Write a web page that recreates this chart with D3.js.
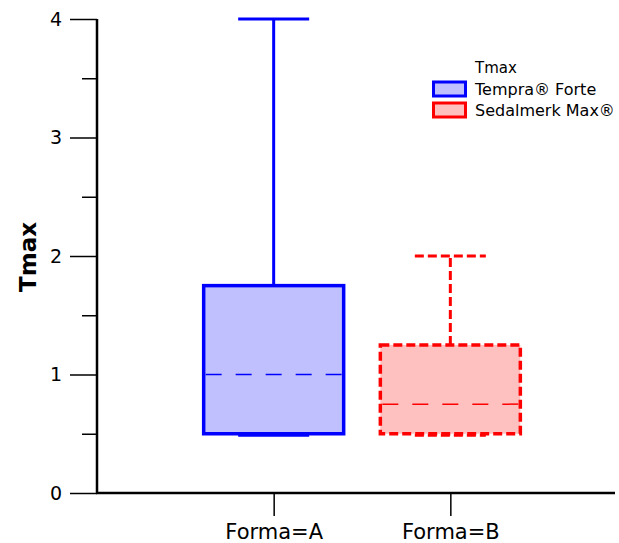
<!DOCTYPE html>
<meta charset="utf-8">
<style>
body { margin: 0; background: #fff; }
text { font-family: "DejaVu Sans", Verdana, sans-serif; }
</style>
<html>
<body>
<div id="chart"></div>
<script src="https://d3js.org/d3.v7.min.js"></script>
<script>
// data
var categories = ["Forma=A", "Forma=B"];
var seriesNames = ["Tempra® Forte", "Sedalmerk Max®"];
var mins = [0.5, 0.5];
var q1s = [0.5, 0.5];
var medians = [1.0, 0.75];
var q3s = [1.75, 1.25];
var maxs = [4.0, 2.0];
var yTicks = [0, 1, 2, 3, 4];
var yMinorTicks = [0.5, 1.5, 2.5, 3.5];

var strokes = ["#0000ff", "#ff0000"];
var fills = ["#c0c0ff", "#ffc0c0"];
var dashes = [null, "9,4"];

var width = 619, height = 543;

var svg = d3.select("#chart").append("svg")
    .attr("width", width)
    .attr("height", height);

var x = d3.scalePoint()
    .domain(categories)
    .range([97, 627])
    .padding(1);

var y = d3.scaleLinear()
    .domain([0, 4])
    .range([493, 19]);

var boxW = 140, capW = 71;

// y axis
var yAxis = svg.append("g")
    .attr("transform", "translate(97,0)")
    .call(d3.axisLeft(y).tickValues(yTicks).tickSize(27).tickPadding(8).tickFormat(d3.format("d")));
yAxis.select(".domain").remove();
yAxis.selectAll("line").attr("stroke", "#000").attr("stroke-width", 1.5);
yAxis.selectAll("text").style("font-size", "19px").attr("fill", "#000");

svg.append("g")
    .attr("transform", "translate(97,0)")
    .call(d3.axisLeft(y).tickValues(yMinorTicks).tickSize(15).tickFormat(""))
    .call(g => g.select(".domain").remove())
    .selectAll("line").attr("stroke", "#000").attr("stroke-width", 1.5);

svg.append("line")
    .attr("x1", 97).attr("x2", 97)
    .attr("y1", y(4)).attr("y2", y(0) + 1)
    .attr("stroke", "#000").attr("stroke-width", 2.5);

// x axis
var xAxis = svg.append("g")
    .attr("transform", "translate(0," + y(0) + ")")
    .call(d3.axisBottom(x).tickSize(23).tickPadding(8));
xAxis.select(".domain").remove();
xAxis.selectAll("line").attr("stroke", "#000").attr("stroke-width", 1.5);
xAxis.selectAll("text").style("font-size", "21px").attr("fill", "#000");

svg.append("line")
    .attr("x1", 96).attr("x2", 615)
    .attr("y1", y(0)).attr("y2", y(0))
    .attr("stroke", "#000").attr("stroke-width", 2.5);

// y label
svg.append("text")
    .attr("transform", "translate(36,257) rotate(-90)")
    .attr("text-anchor", "middle")
    .style("font-size", "23px")
    .style("font-weight", "bold")
    .text("Tmax");

// boxes
categories.forEach(function(c, i) {
    var cx = x(c);
    var g = svg.append("g")
        .attr("stroke", strokes[i])
        .attr("stroke-dasharray", dashes[i]);

    // lower whisker
    g.append("line").attr("x1", cx).attr("x2", cx)
        .attr("y1", y(q1s[i])).attr("y2", y(mins[i]))
        .attr("stroke-width", 3);
    g.append("line").attr("x1", cx - capW / 2).attr("x2", cx + capW / 2)
        .attr("y1", y(mins[i]) + 1.5).attr("y2", y(mins[i]) + 1.5)
        .attr("stroke-width", 3);

    // upper whisker
    g.append("line").attr("x1", cx).attr("x2", cx)
        .attr("y1", y(q3s[i])).attr("y2", y(maxs[i]))
        .attr("stroke-width", 3);
    g.append("line").attr("x1", cx - capW / 2).attr("x2", cx + capW / 2)
        .attr("y1", y(maxs[i])).attr("y2", y(maxs[i]))
        .attr("stroke-width", 3);

    // box
    g.append("rect")
        .attr("x", cx - boxW / 2)
        .attr("y", y(q3s[i]))
        .attr("width", boxW)
        .attr("height", y(q1s[i]) - y(q3s[i]))
        .attr("fill", fills[i])
        .attr("stroke-width", 3.5);

    // median
    svg.append("line")
        .attr("x1", cx - boxW / 2 + 2).attr("x2", cx + boxW / 2 - 2)
        .attr("y1", y(medians[i])).attr("y2", y(medians[i]))
        .attr("stroke", strokes[i])
        .attr("stroke-width", 1.5)
        .attr("stroke-dasharray", "16,14");
});

// legend
var legend = svg.append("g").attr("transform", "translate(432,0)");
legend.append("text")
    .attr("x", 43).attr("y", 73)
    .style("font-size", "15px")
    .text("Tmax");
seriesNames.forEach(function(s, i) {
    var ly = 82 + i * 21;
    legend.append("rect")
        .attr("x", 1.5).attr("y", ly)
        .attr("width", 32).attr("height", 14)
        .attr("fill", fills[i])
        .attr("stroke", strokes[i])
        .attr("stroke-width", 3);
    legend.append("text")
        .attr("x", 43).attr("y", ly + 13)
        .style("font-size", "16px")
        .text(s);
});
</script>
</body>
</html>
